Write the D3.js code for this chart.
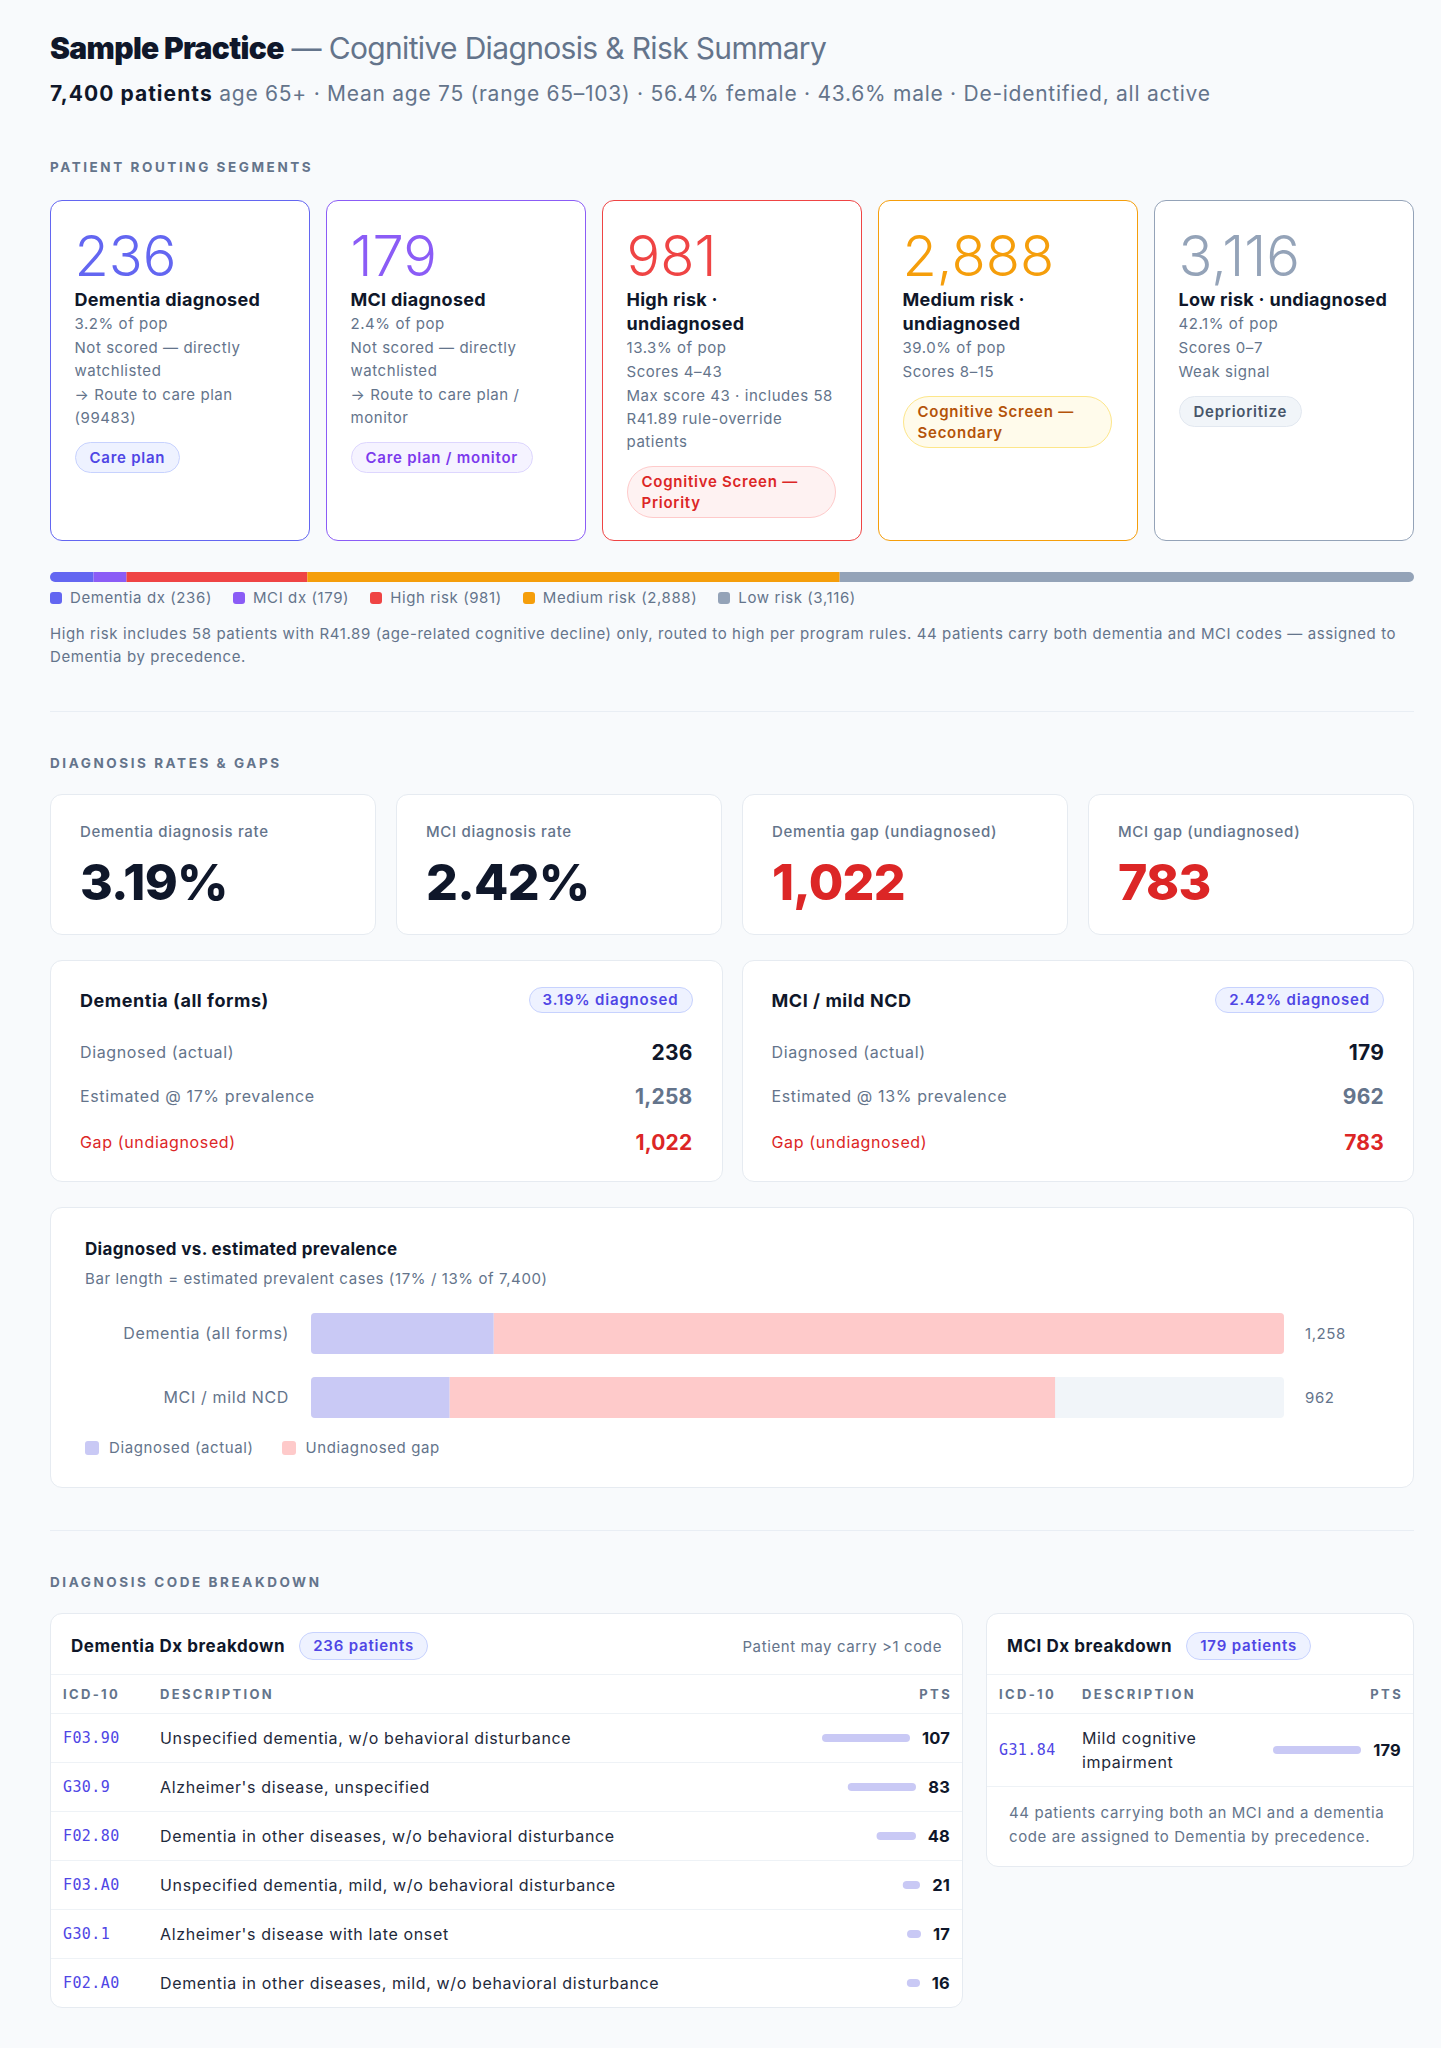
<!DOCTYPE html>
<html><head><meta charset="utf-8">
<script src="https://cdn.jsdelivr.net/npm/d3@7"></script>
<style>
*{box-sizing:border-box;}
html,body{margin:0;padding:0;background:#f8fafc;}
body{font-family:Inter,"Noto Sans",sans-serif;color:#0f172a;width:1441px;height:2048px;overflow:hidden;position:relative;}
.blk{position:absolute;left:50px;width:1364px;}
.h1{font-size:30px;line-height:36px;font-weight:700;letter-spacing:-0.022em;color:#0f172a;white-space:pre;}
.h1 span{font-weight:400;color:#64748b;}
.sub{font-size:21px;line-height:28px;color:#64748b;white-space:pre;letter-spacing:0.035em;}
.sub b{color:#0f172a;font-weight:700;letter-spacing:0.05em;}
.sec{font-size:13.5px;line-height:18px;font-weight:700;letter-spacing:0.19em;color:#64748b;}
.cards{display:flex;gap:16px;}
.card{width:260px;height:341px;border:1.5px solid;border-radius:12px;background:#fff;padding:23px 20px 0 23.5px;}
.num{font-size:56px;line-height:64px;font-weight:300;letter-spacing:0;}
.lbl{font-size:18px;line-height:24px;font-weight:700;white-space:pre;color:#0f172a;letter-spacing:0.015em;}
.txt{font-size:15px;line-height:23px;color:#64748b;white-space:pre;letter-spacing:0.037em;}
.txt + .txt{margin-top:1px;}
.pill{display:inline-block;border:1px solid;border-radius:999px;padding:4px 14px;font-size:15px;line-height:21px;font-weight:600;white-space:pre;margin-top:13px;letter-spacing:0.05em;}
.pill.wide{display:block;width:209px;}
.legend{display:flex;gap:21px;font-size:15px;line-height:20px;color:#64748b;white-space:nowrap;letter-spacing:0.04em;}
.legend i{display:inline-block;width:12px;height:12px;border-radius:3px;margin-right:8px;vertical-align:-1px;}
.note{font-size:15px;line-height:23px;color:#64748b;white-space:pre;letter-spacing:0.04em;}
.divider{height:1px;background:#e9eef4;}
.kpis{display:flex;gap:20px;}
.kpi{flex:1;height:141px;background:#fff;border:1px solid #e6ebf1;border-radius:12px;padding:26px 29px 0;}
.kpi .k{font-size:15px;line-height:22px;font-weight:500;color:#64748b;letter-spacing:0.045em;}
.kpi .v{font-size:50px;line-height:56px;font-weight:800;letter-spacing:-0.015em;margin-top:11px;}
.dets{display:flex;gap:19px;}
.det{flex:1;height:222px;background:#fff;border:1px solid #e6ebf1;border-radius:12px;padding:0 29px;}
.det .hd{display:flex;justify-content:space-between;align-items:center;height:28px;margin-top:25px;}
.det .t{font-size:18px;font-weight:700;letter-spacing:0.03em;}
.badge{display:inline-block;font-size:15px;font-weight:600;color:#4f46e5;background:#eef2ff;border:1px solid #c7d2fe;border-radius:999px;padding:2px 13px;line-height:20px;white-space:nowrap;letter-spacing:0.055em;}
.det .row{display:flex;justify-content:space-between;align-items:center;height:44px;}
.det .row.first{margin-top:16px;}
.det .row.last{margin-top:2px;}
.det .l{font-size:16px;color:#64748b;letter-spacing:0.04em;}
.det .n{font-size:21px;font-weight:700;letter-spacing:0.01em;}
.prev{height:281px;background:#fff;border:1px solid #e6ebf1;border-radius:12px;}
.prev .t{position:absolute;left:34px;top:30px;font-size:17px;line-height:22px;font-weight:700;letter-spacing:0.02em;}
.prev .s{position:absolute;left:34px;top:61px;font-size:15px;line-height:20px;color:#64748b;letter-spacing:0.04em;}
.prev svg{position:absolute;left:-1px;top:105px;}
.prev .lg{position:absolute;left:34px;top:230px;display:flex;gap:28px;font-size:15px;line-height:20px;color:#64748b;letter-spacing:0.04em;}
.prev .lg i{display:inline-block;width:14px;height:14px;border-radius:3px;margin-right:10px;vertical-align:-2px;}
.tbls{display:flex;gap:23px;align-items:flex-start;}
.tcard{background:#fff;border:1px solid #e6ebf1;border-radius:12px;overflow:hidden;}
.thd{height:61px;display:flex;align-items:center;padding:4px 20px 0;border-bottom:1px solid #eef2f6;gap:14px;}
.thd .t{font-size:17px;font-weight:700;white-space:nowrap;letter-spacing:0.033em;}
.thd .r{margin-left:auto;font-size:15px;color:#64748b;white-space:nowrap;letter-spacing:0.04em;}
table{width:100%;border-collapse:collapse;table-layout:fixed;}
th{height:38px;font-size:13px;font-weight:700;letter-spacing:0.18em;color:#64748b;text-align:left;padding:0 12px;border-bottom:1px solid #eef2f6;}
th.pts{text-align:right;padding-right:10px;}
td{padding:12px;font-size:16px;line-height:24px;color:#1e293b;vertical-align:middle;letter-spacing:0.04em;}
tr + tr td{border-top:1px solid #eef2f6;}
td.code{font-family:"DejaVu Sans Mono",monospace;font-size:15px;letter-spacing:0.4px;color:#4f46e5;}
td.pts .w{display:flex;justify-content:flex-end;align-items:center;gap:12px;}
td.pts b{font-size:16.5px;font-weight:700;color:#0f172a;letter-spacing:0.01em;}
.tnote{border-top:1px solid #eef2f6;padding:14px 22px 17px;font-size:15px;line-height:24px;color:#64748b;white-space:pre;letter-spacing:0.04em;}
</style>
</head><body>
<script>
// ---------------- data ----------------
const practiceName = "Sample Practice";
const reportTitle = "Cognitive Diagnosis & Risk Summary";
const totalPatients = 7400;
const cohortFacts = ["age 65+", "Mean age 75 (range 65–103)", "56.4% female", "43.6% male", "De-identified, all active"];

const segmentNames = ["Dementia dx", "MCI dx", "High risk", "Medium risk", "Low risk"];
const segmentCounts = [236, 179, 981, 2888, 3116];
const segmentColors = ["#6366f1", "#8b5cf6", "#ef4444", "#f59e0b", "#94a3b8"];
const segmentTitles = ["Dementia diagnosed", "MCI diagnosed", "High risk ·\nundiagnosed", "Medium risk ·\nundiagnosed", "Low risk · undiagnosed"];
const segmentPct = ["3.2% of pop", "2.4% of pop", "13.3% of pop", "39.0% of pop", "42.1% of pop"];
const segmentNotes = [
  ["Not scored — directly\nwatchlisted", "→ Route to care plan\n(99483)"],
  ["Not scored — directly\nwatchlisted", "→ Route to care plan /\nmonitor"],
  ["Scores 4–43", "Max score 43 · includes 58\nR41.89 rule-override\npatients"],
  ["Scores 8–15"],
  ["Scores 0–7", "Weak signal"]
];
const segmentActions = ["Care plan", "Care plan / monitor", "Cognitive Screen —\nPriority", "Cognitive Screen —\nSecondary", "Deprioritize"];
const actionText = ["#4f46e5", "#7c3aed", "#dc2626", "#b45309", "#475569"];
const actionFill = ["#eef2ff", "#f5f3ff", "#fef2f2", "#fffbeb", "#f1f5f9"];
const actionLine = ["#c7d2fe", "#ddd6fe", "#fecaca", "#fde68a", "#e2e8f0"];
const segmentFootnote = "High risk includes 58 patients with R41.89 (age-related cognitive decline) only, routed to high per program rules. 44 patients carry both dementia and MCI codes — assigned to\nDementia by precedence.";

const conditions = ["Dementia (all forms)", "MCI / mild NCD"];
const conditionShort = ["Dementia", "MCI"];
const prevalenceRates = ["17%", "13%"];
const diagnosedCounts = [236, 179];
const estimatedCounts = [1258, 962];
const gapCounts = [1022, 783];

const dementiaCodes = ["F03.90", "G30.9", "F02.80", "F03.A0", "G30.1", "F02.A0"];
const dementiaDescs = ["Unspecified dementia, w/o behavioral disturbance", "Alzheimer's disease, unspecified", "Dementia in other diseases, w/o behavioral disturbance", "Unspecified dementia, mild, w/o behavioral disturbance", "Alzheimer's disease with late onset", "Dementia in other diseases, mild, w/o behavioral disturbance"];
const dementiaPts = [107, 83, 48, 21, 17, 16];
const mciCodes = ["G31.84"];
const mciDescs = ["Mild cognitive impairment"];
const mciPts = [179];

// ---------------- render ----------------
const fmt = d3.format(",");
const pctFmt = d3.format(".2%");
const body = d3.select("body");
function blk(top, cls) { return body.append("div").attr("class", "blk" + (cls ? " " + cls : "")).style("top", top + "px"); }

// header
const h1 = blk(30).append("div").attr("class", "h1");
h1.append("b").text(practiceName);
h1.append("span").text(" — " + reportTitle);
const sub = blk(80).append("div").attr("class", "sub");
sub.append("b").text(fmt(totalPatients) + " patients");
sub.append("span").text(" " + cohortFacts.join(" · "));

blk(158).append("div").attr("class", "sec").text("PATIENT ROUTING SEGMENTS");

// routing cards
const segs = segmentNames.map((n, i) => ({
  name: n, count: segmentCounts[i], color: segmentColors[i], title: segmentTitles[i],
  pct: segmentPct[i], notes: segmentNotes[i], action: segmentActions[i],
  at: actionText[i], af: actionFill[i], al: actionLine[i]
}));
const cardSel = blk(200, "cards").selectAll(".card").data(segs).join("div")
  .attr("class", "card").style("border-color", d => d.color);
cardSel.append("div").attr("class", "num").style("color", d => d.color).text(d => fmt(d.count));
cardSel.append("div").attr("class", "lbl").text(d => d.title);
cardSel.append("div").attr("class", "txt").text(d => d.pct);
cardSel.each(function (d) {
  d3.select(this).selectAll(".nt").data(d.notes).join("div").attr("class", "txt nt").text(t => t);
});
cardSel.append("div").attr("class", d => "pill" + (d.action.includes("\n") ? " wide" : ""))
  .style("color", d => d.at).style("background", d => d.af).style("border-color", d => d.al)
  .text(d => d.action);

// stacked segment bar
const barW = 1364, barH = 10;
const segSvg = blk(566).append("svg").attr("width", barW).attr("height", barH);
const xSeg = d3.scaleLinear().domain([0, d3.sum(segmentCounts)]).range([0, barW]);
const cum = d3.cumsum(segmentCounts);
segSvg.append("clipPath").attr("id", "segclip").append("rect")
  .attr("width", barW).attr("height", barH).attr("rx", barH / 2);
segSvg.append("g").attr("clip-path", "url(#segclip)")
  .selectAll("rect").data(segs).join("rect")
  .attr("x", (d, i) => xSeg(cum[i] - d.count))
  .attr("width", (d, i) => xSeg(cum[i]) - xSeg(cum[i] - d.count))
  .attr("height", barH).attr("fill", d => d.color);

const lg = blk(588, "legend").selectAll("span").data(segs).join("span");
lg.append("i").style("background", d => d.color);
lg.append("span").text(d => `${d.name} (${fmt(d.count)})`);

blk(622).append("div").attr("class", "note").text(segmentFootnote);
blk(711).append("div").attr("class", "divider");

blk(754).append("div").attr("class", "sec").text("DIAGNOSIS RATES & GAPS");

// KPI tiles
const kpis = [
  ...conditions.map((c, i) => ({ k: `${conditionShort[i]} diagnosis rate`, v: pctFmt(diagnosedCounts[i] / totalPatients), c: "#0f172a" })),
  ...conditions.map((c, i) => ({ k: `${conditionShort[i]} gap (undiagnosed)`, v: fmt(gapCounts[i]), c: "#dc2626" }))
];
const kSel = blk(794, "kpis").selectAll(".kpi").data(kpis).join("div").attr("class", "kpi");
kSel.append("div").attr("class", "k").text(d => d.k);
kSel.append("div").attr("class", "v").style("color", d => d.c).text(d => d.v);

// detail cards
const dets = conditions.map((c, i) => ({
  c, rate: pctFmt(diagnosedCounts[i] / totalPatients),
  rows: [
    { l: "Diagnosed (actual)", v: diagnosedCounts[i], lc: "#64748b", vc: "#0f172a", cls: "first" },
    { l: `Estimated @ ${prevalenceRates[i]} prevalence`, v: estimatedCounts[i], lc: "#64748b", vc: "#64748b", cls: "" },
    { l: "Gap (undiagnosed)", v: gapCounts[i], lc: "#dc2626", vc: "#dc2626", cls: "last" }
  ]
}));
const dSel = blk(960, "dets").selectAll(".det").data(dets).join("div").attr("class", "det");
const dh = dSel.append("div").attr("class", "hd");
dh.append("div").attr("class", "t").text(d => d.c);
dh.append("span").attr("class", "badge").text(d => d.rate + " diagnosed");
dSel.each(function (d) {
  const r = d3.select(this).selectAll(".row").data(d.rows).join("div").attr("class", r => "row " + r.cls);
  r.append("span").attr("class", "l").style("color", r => r.lc).text(r => r.l);
  r.append("span").attr("class", "n").style("color", r => r.vc).text(r => fmt(r.v));
});

// prevalence bar chart
const prev = blk(1207, "prev");
prev.append("div").attr("class", "t").text("Diagnosed vs. estimated prevalence");
prev.append("div").attr("class", "s").text(`Bar length = estimated prevalent cases (${prevalenceRates.join(" / ")} of ${fmt(totalPatients)})`);
const pSvg = prev.append("svg").attr("width", 1364).attr("height", 110);
const xP = d3.scaleLinear().domain([0, d3.max(estimatedCounts)]).range([261, 1234]);
const yP = d3.scaleBand().domain(conditions).range([0, 105]).paddingInner(23 / 64).paddingOuter(0);
const pRows = conditions.map((c, i) => ({ c, dx: diagnosedCounts[i], est: estimatedCounts[i], i }));
const pg = pSvg.selectAll("g.r").data(pRows).join("g").attr("class", "r")
  .attr("transform", d => `translate(0,${yP(d.c)})`);
pg.append("clipPath").attr("id", d => "pc" + d.i).append("rect")
  .attr("x", xP(0)).attr("width", xP(d3.max(estimatedCounts)) - xP(0)).attr("height", yP.bandwidth()).attr("rx", 4);
const pc = pg.append("g").attr("clip-path", d => `url(#pc${d.i})`);
pc.append("rect").attr("x", xP(0)).attr("width", xP(d3.max(estimatedCounts)) - xP(0)).attr("height", yP.bandwidth()).attr("fill", "#f1f5f9");
pc.append("rect").attr("x", d => xP(d.dx)).attr("width", d => xP(d.est) - xP(d.dx)).attr("height", yP.bandwidth()).attr("fill", "#fecaca");
pc.append("rect").attr("x", xP(0)).attr("width", d => xP(d.dx) - xP(0)).attr("height", yP.bandwidth()).attr("fill", "#c9c9f5");
pg.append("text").attr("x", xP(0) - 22).attr("y", yP.bandwidth() / 2).attr("dy", "0.35em")
  .attr("text-anchor", "end").attr("font-size", 16).attr("letter-spacing", "0.64px").attr("fill", "#64748b").text(d => d.c);
pg.append("text").attr("x", xP(d3.max(estimatedCounts)) + 21).attr("y", yP.bandwidth() / 2).attr("dy", "0.35em")
  .attr("font-size", 15).attr("letter-spacing", "0.6px").attr("fill", "#64748b").text(d => fmt(d.est));
const plg = prev.append("div").attr("class", "lg").selectAll("span").data([["Diagnosed (actual)", "#c9c9f5"], ["Undiagnosed gap", "#fecaca"]]).join("span");
plg.append("i").style("background", d => d[1]);
plg.append("span").text(d => d[0]);

blk(1530).append("div").attr("class", "divider");
blk(1573).append("div").attr("class", "sec").text("DIAGNOSIS CODE BREAKDOWN");

// code tables
const tbls = blk(1613, "tbls");
function codeTable(width, title, total, rightNote, codes, descs, pts, cols, footnote) {
  const card = tbls.append("div").attr("class", "tcard").style("width", width + "px");
  const hd = card.append("div").attr("class", "thd");
  hd.append("span").attr("class", "t").text(title);
  hd.append("span").attr("class", "badge").style("line-height", "22px").text(fmt(total) + " patients");
  if (rightNote) hd.append("span").attr("class", "r").text(rightNote);
  const t = card.append("table");
  t.append("colgroup").selectAll("col").data(cols).join("col").style("width", c => c ? c + "px" : null);
  const hr = t.append("thead").append("tr");
  hr.append("th").text("ICD-10");
  hr.append("th").text("DESCRIPTION");
  hr.append("th").attr("class", "pts").text("PTS");
  const xw = d3.scaleLinear().domain([0, d3.max(pts)]).range([0, 88]);
  const rows = codes.map((c, i) => ({ c, d: descs[i], p: pts[i] }));
  const tr = t.append("tbody").selectAll("tr").data(rows).join("tr");
  tr.append("td").attr("class", "code").text(d => d.c);
  tr.append("td").text(d => d.d);
  const w = tr.append("td").attr("class", "pts").append("div").attr("class", "w");
  w.append("svg").attr("width", 88).attr("height", 8).append("rect")
    .attr("x", d => 88 - xw(d.p)).attr("width", d => xw(d.p)).attr("height", 8).attr("rx", 4).attr("fill", "#c9c9f5");
  w.append("b").text(d => fmt(d.p));
  if (footnote) card.append("div").attr("class", "tnote").text(footnote);
}
codeTable(913, "Dementia Dx breakdown", diagnosedCounts[0], "Patient may carry >1 code",
  dementiaCodes, dementiaDescs, dementiaPts, [97, null, 170], null);
codeTable(428, "MCI Dx breakdown", diagnosedCounts[1], null,
  mciCodes, mciDescs, mciPts, [83, 187, null],
  "44 patients carrying both an MCI and a dementia\ncode are assigned to Dementia by precedence.");
</script>
</body></html>
